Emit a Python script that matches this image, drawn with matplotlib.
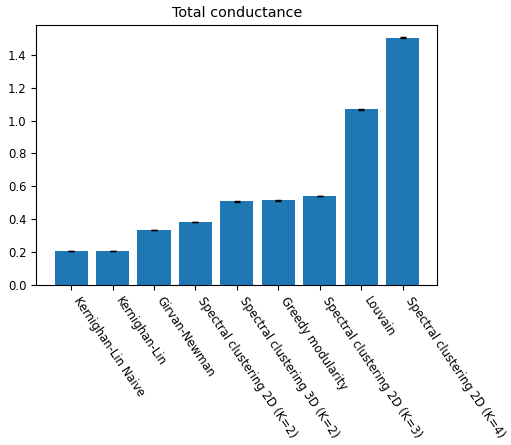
import matplotlib
matplotlib.use("Agg")
import matplotlib.pyplot as plt
import numpy as np

# mean total conductance per method, with std over runs
methods = ['Kernighan-Lin Naive', 'Kernighan-Lin', 'Girvan-Newman',
           'Spectral clustering 2D (K=2)', 'Spectral clustering 3D (K=2)',
           'Greedy modularity', 'Spectral clustering 2D (K=3)', 'Louvain',
           'Spectral clustering 2D (K=4)']
conductance = [0.206, 0.206, 0.334, 0.383, 0.508, 0.516, 0.541, 1.068, 1.505]
std = [0.002, 0.002, 0.002, 0.002, 0.002, 0.003, 0.002, 0.005, 0.002]

plt.rcParams['font.size'] = 8.4

fig = plt.figure(figsize=(5.11, 4.45), dpi=100)
ax = fig.add_axes([0.071, 0.36, 0.785, 0.584])

x = np.arange(len(methods))
ax.bar(x, conductance, yerr=std, capsize=2, color='#1f77b4', ecolor='black')
ax.set_xticks(x)
ax.set_xticklabels(methods, rotation=-56, ha='left', va='top')
ax.set_title('Total conductance', fontsize=10.4)

fig.savefig('out.png', dpi=100)
